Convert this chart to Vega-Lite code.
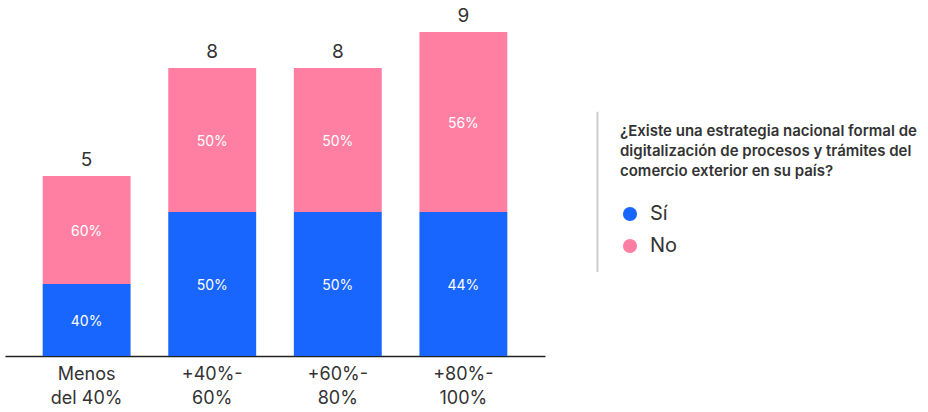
{
  "$schema": "https://vega.github.io/schema/vega-lite/v6.json",
  "padding": {"left": 5, "top": 5, "right": 0, "bottom": 0},
  "background": "white",
  "config": {
    "view": {"stroke": null},
    "font": "Inter",
    "concat": {"spacing": 51}
  },
  "datasets": {
    "bars": [
      {"rango": "Menos del 40%", "respuesta": "Sí", "n": 2, "pct": "40%"},
      {"rango": "Menos del 40%", "respuesta": "No", "n": 3, "pct": "60%"},
      {"rango": "+40%-60%", "respuesta": "Sí", "n": 4, "pct": "50%"},
      {"rango": "+40%-60%", "respuesta": "No", "n": 4, "pct": "50%"},
      {"rango": "+60%-80%", "respuesta": "Sí", "n": 4, "pct": "50%"},
      {"rango": "+60%-80%", "respuesta": "No", "n": 4, "pct": "50%"},
      {"rango": "+80%-100%", "respuesta": "Sí", "n": 4, "pct": "44%"},
      {"rango": "+80%-100%", "respuesta": "No", "n": 5, "pct": "56%"}
    ],
    "divider": [{"a": 0, "b": 0.6}]
  },
  "hconcat": [
    {
      "width": 540,
      "height": 351,
      "data": {"name": "bars"},
      "transform": [
        {"calculate": "datum.respuesta == 'Sí' ? 0 : 1", "as": "ord"},
        {"stack": "n", "groupby": ["rango"], "sort": [{"field": "ord"}], "as": ["y0", "y1"]},
        {"calculate": "(datum.y0 + datum.y1) / 2", "as": "ymid"}
      ],
      "encoding": {
        "x": {
          "field": "rango",
          "type": "nominal",
          "sort": ["Menos del 40%", "+40%-60%", "+60%-80%", "+80%-100%"],
          "scale": {"paddingInner": 0.3, "paddingOuter": 0.3},
          "axis": {
            "title": null,
            "labelAngle": 0,
            "ticks": false,
            "domainColor": "#222222",
            "domainWidth": 1.5,
            "labelFontSize": 18,
            "labelColor": "#333333",
            "labelPadding": 9,
            "labelLineHeight": 24,
            "labelExpr": "split(replace(replace(datum.label, 'Menos ', 'Menos|'), '-', '-|'), '|')"
          }
        }
      },
      "layer": [
        {
          "mark": {"type": "bar"},
          "encoding": {
            "y": {"field": "y0", "type": "quantitative", "scale": {"domain": [0, 9.75], "nice": false}, "axis": null},
            "y2": {"field": "y1"},
            "color": {
              "field": "respuesta",
              "type": "nominal",
              "scale": {"domain": ["Sí", "No"], "range": ["#1966FF", "#FF7FA3"]},
              "legend": {
                "orient": "none",
                "legendX": 615,
                "legendY": 119,
                "title": ["¿Existe una estrategia nacional formal de", "digitalización de procesos y trámites del", "comercio exterior en su país?"],
                "titleLimit": 400,
                "titleFontSize": 15,
                "titleFontWeight": 600,
                "titleColor": "#333333",
                "titleLineHeight": 20,
                "titlePadding": 25,
                "symbolType": "circle",
                "symbolSize": 200,
                "symbolStrokeWidth": 0,
                "labelFontSize": 20,
                "labelColor": "#333333",
                "labelOffset": 10,
                "rowPadding": 12
              }
            }
          }
        },
        {
          "mark": {"type": "text", "color": "white", "fontSize": 14, "dy": 1.5},
          "encoding": {
            "y": {"field": "ymid", "type": "quantitative"},
            "text": {"field": "pct"}
          }
        },
        {
          "transform": [{"aggregate": [{"op": "sum", "field": "n", "as": "total"}], "groupby": ["rango"]}],
          "mark": {"type": "text", "fontSize": 19, "color": "#333333", "baseline": "bottom", "dy": -6},
          "encoding": {
            "y": {"field": "total", "type": "quantitative"},
            "text": {"field": "total", "type": "quantitative"}
          }
        }
      ]
    },
    {
      "width": 1,
      "height": 267,
      "data": {"name": "divider"},
      "mark": {"type": "rule", "color": "#cccccc", "strokeWidth": 2},
      "encoding": {
        "y": {"field": "a", "type": "quantitative", "scale": {"domain": [0, 1]}, "axis": null},
        "y2": {"field": "b"}
      }
    }
  ]
}
